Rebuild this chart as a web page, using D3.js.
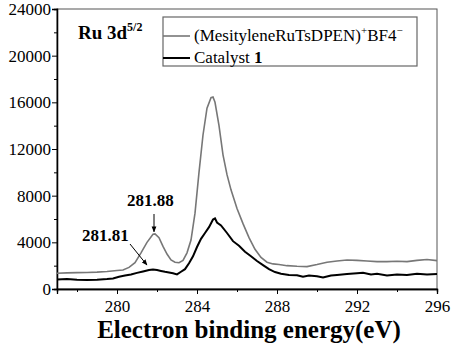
<!DOCTYPE html>
<html lang="en">
<head>
    <meta charset="UTF-8">
    <title>Ru 3d XPS</title>
    <script src="https://cdn.jsdelivr.net/npm/d3@7"></script>
    <style>
        body { margin: 0; background: #fff; }
        svg text { font-family: "Liberation Serif", "Times New Roman", serif; }
    </style>
</head>
<body>
<script>
    // binding energy (eV) and counts
    const grayE = [277.0, 277.5, 278.0, 278.5, 279.0, 279.5, 280.0, 280.3, 280.6, 280.9, 281.2, 281.5, 281.8, 281.9,
        282.1, 282.3, 282.5, 282.7, 282.9, 283.1, 283.3, 283.5, 283.7, 283.9, 284.1, 284.3, 284.5, 284.7, 284.8,
        284.9, 285.1, 285.3, 285.5, 285.7, 286.0, 286.3, 286.6, 286.9, 287.2, 287.5, 287.8, 288.1, 288.5, 289.0,
        289.5, 290.0, 290.5, 291.0, 291.5, 292.0, 292.5, 293.0, 293.5, 294.0, 294.5, 295.0, 295.5, 296.0]
    const grayY = [1350, 1380, 1400, 1420, 1450, 1500, 1580, 1630, 1850, 2250, 3100, 4000, 4700, 4720,
        4400, 3650, 3000, 2500, 2300, 2250, 2450, 3100, 4200, 6500, 10000, 13200, 15500, 16400, 16450,
        16000, 14000, 11500, 9800, 8500, 6900, 5600, 4400, 3400, 2700, 2300, 2150, 2100, 2000, 1950,
        1920, 2100, 2300, 2400, 2480, 2450, 2400, 2350, 2350, 2380, 2350, 2450, 2530, 2430]
    const blackE = [277.0, 277.5, 278.0, 278.5, 279.0, 279.5, 279.8, 280.1, 280.4, 280.7, 281.0, 281.3, 281.6, 281.8,
        282.0, 282.2, 282.4, 282.6, 282.8, 283.0, 283.2, 283.4, 283.6, 283.8, 284.0, 284.2, 284.4, 284.6, 284.8,
        284.9, 285.0, 285.2, 285.5, 285.8, 286.1, 286.4, 286.7, 287.0, 287.3, 287.6, 287.9, 288.2, 288.6, 289.0,
        289.3, 289.6, 290.0, 290.3, 290.7, 291.0, 291.5, 292.0, 292.3, 292.7, 293.0, 293.5, 294.0, 294.5, 295.0,
        295.5, 296.0]
    const blackY = [820, 850, 790, 770, 800, 850, 900, 1050, 1150, 1250, 1380, 1500, 1620, 1680,
        1620, 1550, 1480, 1420, 1350, 1250, 1480, 1700, 2200, 2800, 3600, 4300, 4800, 5300, 5950,
        6050, 5700, 5450, 4800, 4100, 3700, 3200, 2800, 2400, 2050, 1700, 1450, 1300, 1200, 1180,
        1050, 1150, 1100, 980, 1150, 1200, 1280, 1350, 1400, 1250, 1300, 1150, 1250, 1200, 1300,
        1250, 1280]
    const xTicks = [280, 284, 288, 292, 296]
    const xMinor = [278, 282, 286, 290, 294]
    const yTicks = [0, 4000, 8000, 12000, 16000, 20000, 24000]
    const yMinor = [2000, 6000, 10000, 14000, 18000, 22000]

    const [width, height] = [459, 350]
    const serif = '"Liberation Serif", "Times New Roman", serif'
    const x = d3.scaleLinear().domain([277, 296]).range([57, 437])
    const y = d3.scaleLinear().domain([0, 24000]).range([289, 9])

    const svg = d3.select('body').append('svg')
        .attr('width', width)
        .attr('height', height)

    // frame
    svg.append('rect')
        .attr('x', x(277)).attr('y', y(24000))
        .attr('width', x(296) - x(277)).attr('height', y(0) - y(24000))
        .attr('fill', 'none').attr('stroke', '#555').attr('stroke-width', 1)

    const xAxis = svg.append('g').attr('transform', `translate(0,${y(0)})`)
        .call(d3.axisBottom(x).tickValues(xTicks).tickSize(5).tickFormat(d3.format('d')))
    svg.append('g').attr('transform', `translate(0,${y(0)})`)
        .call(d3.axisBottom(x).tickValues(xMinor).tickSize(3).tickFormat(''))
    const yAxis = svg.append('g').attr('transform', `translate(${x(277)},0)`)
        .call(d3.axisLeft(y).tickValues(yTicks).tickSize(5).tickFormat(d3.format('d')))
    svg.append('g').attr('transform', `translate(${x(277)},0)`)
        .call(d3.axisLeft(y).tickValues(yMinor).tickSize(3).tickFormat(''))

    svg.selectAll('g').attr('font-family', serif)
    svg.selectAll('.domain').attr('stroke', '#000').attr('stroke-width', 1.3)
    svg.selectAll('.tick line').attr('stroke', '#000')
    xAxis.selectAll('text')
        .style('font-family', serif).attr('font-size', 17).attr('fill', '#000')
        .attr('dy', null).attr('y', 23)
    yAxis.selectAll('text')
        .style('font-family', serif).attr('font-size', 17).attr('fill', '#000')
        .attr('x', -6)

    // curves
    const line = d3.line()
        .x(d => x(d[0]))
        .y(d => y(d[1]))
    svg.append('path')
        .datum(d3.zip(grayE, grayY))
        .attr('d', line)
        .attr('fill', 'none')
        .attr('stroke', '#777')
        .attr('stroke-width', 1.6)
    svg.append('path')
        .datum(d3.zip(blackE, blackY))
        .attr('d', line)
        .attr('fill', 'none')
        .attr('stroke', '#000')
        .attr('stroke-width', 2)

    // axis title
    svg.append('text')
        .attr('x', 249).attr('y', 338)
        .attr('text-anchor', 'middle')
        .attr('font-size', 25).attr('font-weight', 'bold')
        .text('Electron binding energy(eV)')

    // panel label
    const ru = svg.append('text').attr('x', 78).attr('y', 39)
        .attr('font-size', 19).attr('font-weight', 'bold')
    ru.append('tspan').text('Ru 3d')
    ru.append('tspan').attr('font-size', 12).attr('dy', -8).text('5/2')

    // legend
    svg.append('rect')
        .attr('x', 163).attr('y', 17).attr('width', 254).attr('height', 49)
        .attr('fill', '#fff').attr('stroke', '#666').attr('stroke-width', 1.2)
    svg.append('line').attr('x1', 163).attr('x2', 190).attr('y1', 36).attr('y2', 36)
        .attr('stroke', '#777').attr('stroke-width', 1.6)
    svg.append('line').attr('x1', 163).attr('x2', 190).attr('y1', 58).attr('y2', 58)
        .attr('stroke', '#000').attr('stroke-width', 2)
    const l1 = svg.append('text').attr('x', 194).attr('y', 41).attr('font-size', 17)
    l1.append('tspan').text('(MesityleneRuTsDPEN)')
    l1.append('tspan').attr('font-size', 11).attr('dy', -7).text('+')
    l1.append('tspan').attr('dy', 7).text('BF4')
    l1.append('tspan').attr('font-size', 11).attr('dy', -7).text('\u2212')
    const l2 = svg.append('text').attr('x', 194).attr('y', 63).attr('font-size', 17)
    l2.append('tspan').text('Catalyst ')
    l2.append('tspan').attr('font-weight', 'bold').text('1')

    // peak annotations
    svg.append('defs').append('marker')
        .attr('id', 'head').attr('viewBox', '0 0 10 10')
        .attr('refX', 9).attr('refY', 5)
        .attr('markerWidth', 6).attr('markerHeight', 6)
        .attr('orient', 'auto')
        .append('path').attr('d', 'M0,1 L10,5 L0,9 Z').attr('fill', '#000')
    svg.append('text').attr('x', 127).attr('y', 206)
        .attr('font-size', 17).attr('font-weight', 'bold').text('281.88')
    svg.append('line').attr('x1', x(281.85)).attr('y1', 214).attr('x2', x(281.85)).attr('y2', y(4900))
        .attr('stroke', '#000').attr('stroke-width', 1).attr('marker-end', 'url(#head)')
    svg.append('text').attr('x', 82).attr('y', 241)
        .attr('font-size', 17).attr('font-weight', 'bold').text('281.81')
    svg.append('line').attr('x1', 130).attr('y1', 244).attr('x2', 147).attr('y2', y(2050))
        .attr('stroke', '#000').attr('stroke-width', 1).attr('marker-end', 'url(#head)')
</script>
</body>
</html>
